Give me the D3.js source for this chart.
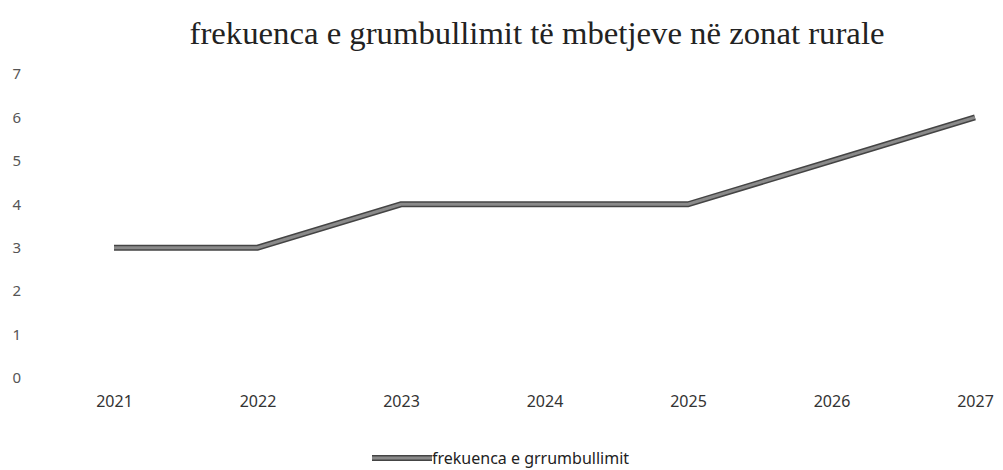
<!DOCTYPE html>
<meta charset="utf-8">
<head>
    <title>frekuenca e grumbullimit</title>
    <script src="https://d3js.org/d3.v7.min.js"></script>
    <style>
        body { margin: 0; background: #fff; }
        .tick text { font-family: "Noto Sans", sans-serif; }
    </style>
</head>
<body>
<script>
    // data
    var years = ["2021", "2022", "2023", "2024", "2025", "2026", "2027"];
    var values = [3, 3, 4, 4, 4, 5, 6];
    var yTicks = [0, 1, 2, 3, 4, 5, 6, 7];
    var seriesName = "frekuenca e grrumbullimit";
    var title = "frekuenca e grumbullimit të mbetjeve në zonat rurale";

    var width = 1003, height = 470;

    var svg = d3.select("body").append("svg")
        .attr("width", width)
        .attr("height", height);

    var x = d3.scalePoint().domain(years).range([114, 975]);
    var y = d3.scaleLinear().domain([0, 7]).range([378, 74]);

    // title
    svg.append("text")
        .attr("x", 537).attr("y", 44)
        .attr("text-anchor", "middle")
        .attr("textLength", 695)
        .attr("lengthAdjust", "spacingAndGlyphs")
        .style("font-family", "'Liberation Serif', serif")
        .style("font-size", "31px")
        .style("fill", "#222")
        .text(title);

    // y axis labels
    var yAxis = d3.axisLeft(y).tickValues(yTicks).tickFormat(d3.format("d")).tickSize(0).tickPadding(0);
    var gy = svg.append("g").attr("transform", "translate(21,0)").call(yAxis);
    gy.select(".domain").remove();
    gy.selectAll("text")
        .style("font-size", "15px")
        .style("fill", "#555")
        .attr("text-anchor", "end");

    // x axis labels
    var xAxis = d3.axisBottom(x).tickSize(0).tickPadding(0);
    var gx = svg.append("g").attr("transform", "translate(0,396)").call(xAxis);
    gx.select(".domain").remove();
    gx.selectAll("text")
        .style("font-size", "16px")
        .style("fill", "#333");

    // line
    var line = d3.line()
        .x(function(d, i) { return x(years[i]); })
        .y(function(d) { return y(d); });

    svg.append("path")
        .datum(values)
        .attr("d", line)
        .style("fill", "none")
        .style("stroke", "#444")
        .style("stroke-width", 6);
    svg.append("path")
        .datum(values)
        .attr("d", line)
        .style("fill", "none")
        .style("stroke", "#8a8a8a")
        .style("stroke-width", 3);

    // legend
    var lg = svg.append("g").attr("transform", "translate(372,458)");
    lg.append("line")
        .attr("x1", 0).attr("x2", 60).attr("y1", 0).attr("y2", 0)
        .style("stroke", "#444").style("stroke-width", 6);
    lg.append("line")
        .attr("x1", 0).attr("x2", 60).attr("y1", 0).attr("y2", 0)
        .style("stroke", "#8a8a8a").style("stroke-width", 3);
    lg.append("text")
        .attr("x", 60).attr("y", 6)
        .style("font-family", "'Noto Sans', sans-serif")
        .style("font-size", "16px")
        .style("fill", "#222")
        .text(seriesName);
</script>
</body>
</html>
